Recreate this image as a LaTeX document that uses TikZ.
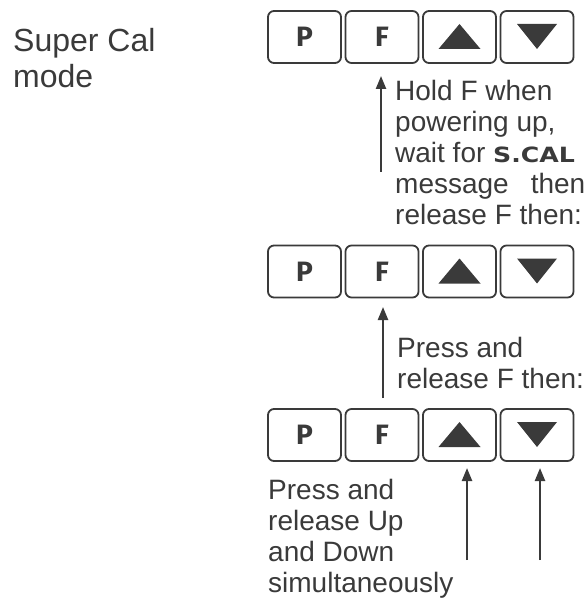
\documentclass[tikz,border=0pt]{standalone}
\usepackage{fontspec}
\setmainfont{Liberation Sans}
\newfontfamily\keyfont{Fira Sans}
\newfontfamily\segfont[FakeStretch=1.2]{DejaVu Sans}
\usetikzlibrary{arrows.meta,calc}
\definecolor{ink}{HTML}{3A3A3A}
\begin{document}
\begin{tikzpicture}[x=1pt,y=-1pt,
  key/.style={draw=ink, line width=1.8pt, rounded corners=6pt, minimum width=73pt,
    minimum height=52pt, inner sep=0pt, text=ink,
    font=\keyfont\bfseries\fontsize{28}{28}\selectfont},
  conn/.style={draw=ink, line width=2.3pt, -{Triangle[length=13pt,width=10pt]}},
  txt/.style={anchor=base west, align=left, inner sep=0pt, text=ink,
    font=\fontsize{28}{31}\selectfont},
  tri/.style={fill=ink}]
\useasboundingbox (0,0) rectangle (585,601);

% title (anchor = baseline of last line)
\node[txt, font=\fontsize{32}{36}\selectfont] (title) at (13,88) {Super Cal\\mode};

% key rows
\foreach \r/\y in {1/37, 2/271.5, 3/435} {
  \node[key] (p\r) at (304.5,\y) {P};
  \node[key] (f\r) at (382,\y) {F};
  \node[key] (u\r) at (459.5,\y) {};
  \node[key] (d\r) at (537,\y) {};
  \fill[tri] ($(u\r)+(-21,12)$) -- ($(u\r)+(21,12)$) -- ($(u\r)+(0,-13)$) -- cycle;
  \fill[tri] ($(d\r)+(-20,-13)$) -- ($(d\r)+(20,-13)$) -- ($(d\r)+(0,12)$) -- cycle;
}

% texts (anchor = baseline of last line)
\node[txt] (t1) at (395,225) {Hold F when\\powering up,\\wait for {\segfont\bfseries\fontsize{21}{21}\selectfont S.CAL}\\message\hspace{22pt}then\\release F then:};
\node[txt] (t2) at (397,388) {Press and\\release F then:};
\node[txt] (t3) at (268,592) {Press and\\release Up\\and Down\\simultaneously};

% arrows
\coordinate (a1s) at (381,172);
\coordinate (a1e) at (381,76);
\coordinate (a2s) at (383,398);
\coordinate (a2e) at (383,307);
\coordinate (a3s) at (467,560);
\coordinate (a3e) at (467,468);
\coordinate (a4s) at (540,560);
\coordinate (a4e) at (540,468);
\draw[conn] (a1s) -- (a1e);
\draw[conn] (a2s) -- (a2e);
\draw[conn] (a3s) -- (a3e);
\draw[conn] (a4s) -- (a4e);
\end{tikzpicture}
\end{document}
